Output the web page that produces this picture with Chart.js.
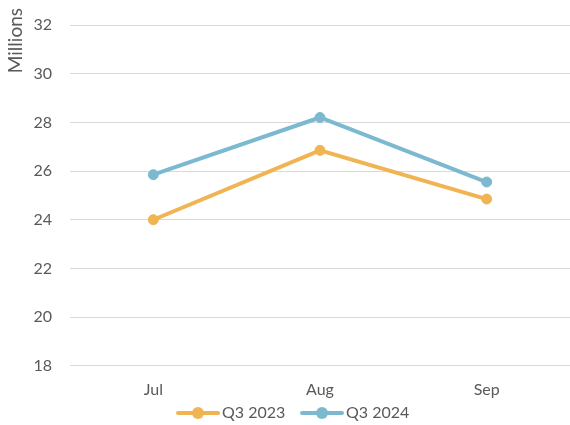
<!DOCTYPE html>
<html>
<head>
<meta charset="utf-8">
<script src="https://cdn.jsdelivr.net/npm/chart.js@4"></script>
<style>
html,body{margin:0;padding:0;background:#fff;}
#wrap{width:570px;height:425px;position:relative;}
</style>
</head>
<body>
<div id="wrap"><canvas id="c" width="570" height="425"></canvas></div>
<script>
const categories = ["Jul", "Aug", "Sep"];
const q3_2023 = [24.0, 26.85, 24.85];
const q3_2024 = [25.85, 28.2, 25.55];
const yTicks = [18, 20, 22, 24, 26, 28, 30, 32];
const yTitle = "Millions";

const FONT = "Lato, 'Noto Sans', sans-serif";
Chart.defaults.font.family = FONT;
Chart.defaults.color = "#595959";

new Chart(document.getElementById('c'), {
  type: 'line',
  data: {
    labels: categories,
    datasets: [
      {label: 'Q3 2023', data: q3_2023, borderColor: '#F0B452', backgroundColor: '#F0B452',
       borderWidth: 4, pointRadius: 5, pointBorderWidth: 1, pointHoverRadius: 5, tension: 0},
      {label: 'Q3 2024', data: q3_2024, borderColor: '#7CB9D1', backgroundColor: '#7CB9D1',
       borderWidth: 4, pointRadius: 5, pointBorderWidth: 1, pointHoverRadius: 5, tension: 0}
    ]
  },
  options: {
    responsive: false,
    animation: false,
    layout: {autoPadding: false, padding: {top: 25, right: 0, left: 0, bottom: 20}},
    plugins: {
      legend: {display: false},
      tooltip: {enabled: false}
    },
    scales: {
      x: {
        offset: true,
        grid: {display: false},
        border: {display: false},
        ticks: {font: {size: 16}, color: '#595959', padding: 6},
        afterFit(axis) { axis.paddingLeft = 0; axis.paddingRight = 0; }
      },
      y: {
        min: 18, max: 32,
        afterBuildTicks(axis) { axis.ticks = yTicks.map(v => ({value: v})); },
        afterFit(axis) { axis.width = 70; axis.paddingTop = 0; axis.paddingBottom = 0; },
        grid: {color: '#d9d9d9', lineWidth: 1, drawTicks: false},
        border: {display: false},
        ticks: {font: {size: 16}, color: '#595959', padding: 18}
      }
    }
  },
  plugins: [{
    id: 'extras',
    afterDraw(chart) {
      const ctx = chart.ctx;
      // y-axis title at top-left, rotated
      ctx.save();
      ctx.translate(16, 8);
      ctx.rotate(-Math.PI / 2);
      ctx.font = "19px " + FONT;
      ctx.fillStyle = '#595959';
      ctx.textAlign = 'right';
      ctx.textBaseline = 'middle';
      ctx.fillText(yTitle, 0, 0);
      ctx.restore();
      // custom legend
      const cy = 413;
      const items = [{x: 178}, {x: 302}];
      chart.data.datasets.forEach((ds, i) => {
        const x0 = items[i].x;
        ctx.save();
        ctx.strokeStyle = ds.borderColor;
        ctx.lineWidth = 4;
        ctx.lineCap = 'round';
        ctx.beginPath();
        ctx.moveTo(x0, cy);
        ctx.lineTo(x0 + 40, cy);
        ctx.stroke();
        ctx.fillStyle = ds.borderColor;
        ctx.beginPath();
        ctx.arc(x0 + 20, cy, 6, 0, Math.PI * 2);
        ctx.fill();
        ctx.font = "16px " + FONT;
        ctx.fillStyle = '#595959';
        ctx.textAlign = 'left';
        ctx.textBaseline = 'middle';
        ctx.fillText(ds.label, x0 + 44, cy);
        ctx.restore();
      });
    }
  }]
});
</script>
</body>
</html>
